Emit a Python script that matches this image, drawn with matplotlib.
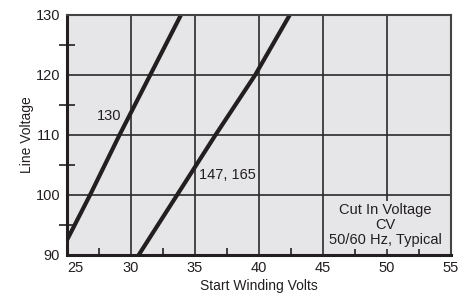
#!/usr/bin/env python3

# +
# import(s)
# -
import matplotlib
matplotlib.use('Agg')
import matplotlib.pyplot as plt
from matplotlib.ticker import MultipleLocator


# +
# data
# -
LINE_130_X = [25.0, 26.8, 29.1, 31.5, 33.9]
LINE_130_Y = [92.5, 100.0, 110.0, 120.0, 130.0]
LINE_147_X = [30.6, 33.6, 36.6, 39.7, 42.4]
LINE_147_Y = [90.0, 100.0, 110.0, 120.0, 130.0]
X_TICKS = [25, 30, 35, 40, 45, 50, 55]
Y_TICKS = [90, 100, 110, 120, 130]


# +
# plot
# -
plt.rcParams['font.family'] = ['Liberation Sans', 'DejaVu Sans']
fig = plt.figure(figsize=(4.75, 2.94), dpi=100)
fig.subplots_adjust(left=67 / 475, right=451 / 475, top=1 - 15 / 294, bottom=1 - 255 / 294)
ax = fig.add_subplot(111)
ax.set_facecolor('#e6e6e8')

ax.set_xlim(25, 55)
ax.set_ylim(90, 130)
ax.set_xticks(X_TICKS)
ax.set_yticks(Y_TICKS)
ax.set_xticklabels([str(v) for v in X_TICKS])
ax.set_yticklabels([str(v) for v in Y_TICKS])
ax.get_xticklabels()[0].set_horizontalalignment('left')
ax.xaxis.set_minor_locator(MultipleLocator(2.5))
ax.yaxis.set_minor_locator(MultipleLocator(5))
ax.tick_params(axis='both', which='major', length=0, labelsize=10.5, colors='#231f20')
ax.tick_params(axis='x', which='major', pad=4)
ax.tick_params(axis='y', which='major', pad=5)
ax.tick_params(axis='x', which='minor', direction='in', length=5, width=1.2, color='#231f20')
ax.tick_params(axis='y', which='minor', direction='inout', length=12, width=1.2, color='#231f20')

ax.grid(True, which='major', color='#2a2a2a', linewidth=1.2)
ax.set_axisbelow(True)

for _s in ['left', 'bottom']:
    ax.spines[_s].set_linewidth(2.2)
    ax.spines[_s].set_color('#231f20')
for _s in ['top', 'right']:
    ax.spines[_s].set_linewidth(1.5)
    ax.spines[_s].set_color('#444444')

ax.plot(LINE_130_X, LINE_130_Y, color='#231f20', linewidth=3.0, solid_capstyle='butt', clip_on=True)
ax.plot(LINE_147_X, LINE_147_Y, color='#231f20', linewidth=3.0, solid_capstyle='butt', clip_on=True)

ax.text(28.3, 113.2, '130', fontsize=10.5, ha='center', va='center', color='#231f20')
ax.text(37.5, 103.3, '147, 165', fontsize=10.5, ha='center', va='center', color='#231f20')
ax.text(49.9, 95.0, 'Cut In Voltage\nCV\n50/60 Hz, Typical', fontsize=10.5, ha='center', va='center',
        color='#231f20', linespacing=1.12,
        bbox=dict(facecolor='#e6e6e8', edgecolor='none', pad=1.5))

ax.set_xlabel('Start Winding Volts', fontsize=10, color='#231f20', labelpad=3)
ax.set_ylabel('Line Voltage', fontsize=10, color='#231f20', labelpad=1)

fig.savefig('out.png', dpi=100)
